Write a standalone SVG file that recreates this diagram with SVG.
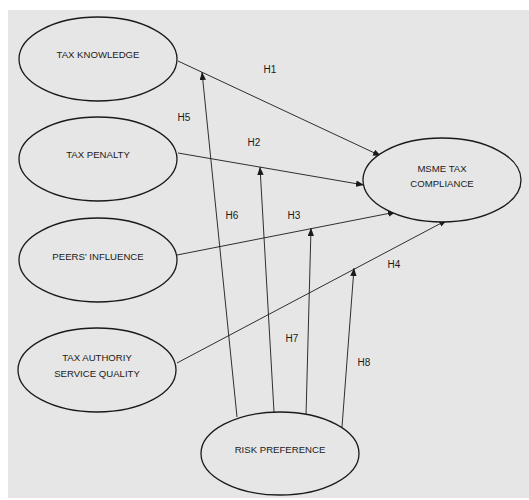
<svg xmlns="http://www.w3.org/2000/svg" width="529" height="500" viewBox="0 0 529 500">
<style>
.n{fill:#e6e6e6;stroke:#1a1a1a;stroke-width:1.3}
.t{font-family:"Liberation Sans",Arial,sans-serif;font-size:9.6px;fill:#1a1a1a;text-anchor:middle}
.l{font-family:"Liberation Sans",Arial,sans-serif;font-size:10px;fill:#1a1a1a;text-anchor:middle}
.c{stroke:#1a1a1a;stroke-width:0.9;fill:none;marker-end:url(#a)}
</style>
<defs>
<marker id="a" viewBox="0 0 10 8" refX="10" refY="4" markerWidth="8" markerHeight="6.4" markerUnits="userSpaceOnUse" orient="auto">
<path d="M0,0 L10,4 L0,8 Z" fill="#1a1a1a"/>
</marker>
</defs>
<rect x="0" y="0" width="529" height="500" fill="#ffffff"/>
<rect x="8" y="10" width="521" height="488" fill="#e6e6e6"/>
<g id="connectors">
<line class="c" x1="178" y1="61" x2="381" y2="156"/>
<line class="c" x1="178" y1="153" x2="364" y2="185"/>
<line class="c" x1="177" y1="255" x2="396" y2="212"/>
<line class="c" x1="177" y1="363" x2="447" y2="220"/>
<line class="c" x1="237" y1="417" x2="202" y2="72"/>
<line class="c" x1="274" y1="412" x2="260" y2="167"/>
<line class="c" x1="306" y1="416" x2="311" y2="228"/>
<line class="c" x1="342" y1="427" x2="354" y2="268"/>
<text class="l" x="270" y="73">H1</text>
<text class="l" x="184" y="121">H5</text>
<text class="l" x="254" y="146">H2</text>
<text class="l" x="232" y="219">H6</text>
<text class="l" x="294" y="219">H3</text>
<text class="l" x="394" y="268">H4</text>
<text class="l" x="292" y="342">H7</text>
<text class="l" x="364" y="366">H8</text>
</g>
<g id="tax-knowledge">
<ellipse class="n" cx="98" cy="59" rx="79" ry="42"/>
<text class="t" x="98" y="58">TAX KNOWLEDGE</text>
</g>
<g id="tax-penalty">
<ellipse class="n" cx="98" cy="159" rx="79" ry="42"/>
<text class="t" x="98" y="158">TAX PENALTY</text>
</g>
<g id="peers-influence">
<ellipse class="n" cx="98" cy="260" rx="79" ry="42"/>
<text class="t" x="98" y="260">PEERS’ INFLUENCE</text>
</g>
<g id="tax-authority">
<ellipse class="n" cx="97" cy="370" rx="79" ry="42"/>
<text class="t" x="97" y="361">TAX AUTHORIY</text>
<text class="t" x="97" y="377">SERVICE QUALITY</text>
</g>
<g id="msme-tax-compliance">
<ellipse class="n" cx="442" cy="180" rx="79" ry="42"/>
<text class="t" x="442" y="172">MSME TAX</text>
<text class="t" x="442" y="187">COMPLIANCE</text>
</g>
<g id="risk-preference">
<ellipse class="n" cx="280" cy="453.5" rx="79" ry="41.5"/>
<text class="t" x="280" y="453">RISK PREFERENCE</text>
</g>
</svg>
